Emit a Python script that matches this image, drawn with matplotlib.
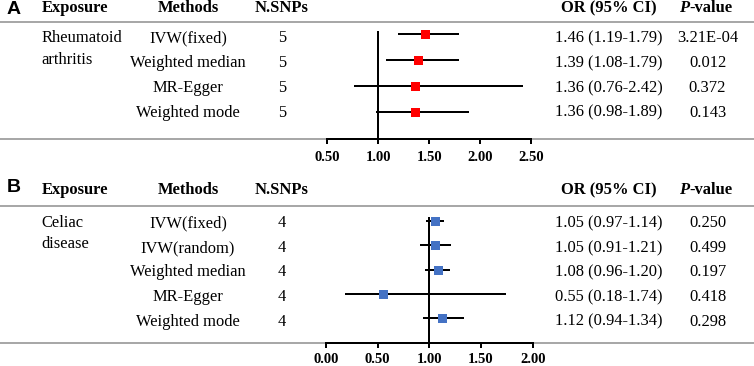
import matplotlib
matplotlib.use("Agg")
import matplotlib.pyplot as plt

# ---------------- data ----------------
a_exposure = ["Rheumatoid", "arthritis"]
a_methods = ["IVW(fixed)", "Weighted median", "MR-Egger", "Weighted mode"]
a_nsnps = [5, 5, 5, 5]
a_or = [1.46, 1.39, 1.36, 1.36]
a_lo = [1.19, 1.08, 0.76, 0.98]
a_hi = [1.79, 1.79, 2.42, 1.89]
a_p = ["3.21E-04", "0.012", "0.372", "0.143"]
a_ticks = [0.5, 1.0, 1.5, 2.0, 2.5]

b_exposure = ["Celiac", "disease"]
b_methods = ["IVW(fixed)", "IVW(random)", "Weighted median", "MR-Egger", "Weighted mode"]
b_nsnps = [4, 4, 4, 4, 4]
b_or = [1.05, 1.05, 1.08, 0.55, 1.12]
b_lo = [0.97, 0.91, 0.96, 0.18, 0.94]
b_hi = [1.14, 1.21, 1.20, 1.74, 1.34]
b_p = ["0.250", "0.499", "0.197", "0.418", "0.298"]
b_ticks = [0.0, 0.5, 1.0, 1.5, 2.0]

headers = ["Exposure", "Methods", "N.SNPs", "OR (95% CI)"]

# ---------------- layout ----------------
W, H = 754, 366
DPI = 100
SERIF = "Liberation Serif"
FS = 11.9
PX = 72.0 / DPI  # points per pixel

fig = plt.figure(figsize=(W / DPI, H / DPI), dpi=DPI)
bg = fig.add_axes([0, 0, 1, 1])
bg.set_xlim(0, W)
bg.set_ylim(H, 0)
bg.axis("off")

GRAY = "#a8a8a8"
col_exp = 41.5
col_meth = 188
col_n = 282
col_or = 609
col_p = 707.5


def panel(label, label_y, head_y, line_top, line_bot, exposure, methods, nsnps,
          ors, los, his, pvals, ticks, color,
          text_y0, text_dy, exp_dy, mark_y0, mark_dy, ref_top,
          ax_left, ax_right, label_pad):
    # panel letter
    bg.text(6.5, label_y, label, family="Liberation Sans", weight="bold",
            fontsize=14, va="center", ha="left")
    # headers
    hx = [col_exp, col_meth, col_n, col_or]
    ha = ["left", "center", "center", "center"]
    for t, x, h in zip(headers, hx, ha):
        bg.text(x, head_y, t, family=SERIF, weight="bold", fontsize=FS,
                ha=h, va="baseline")
    t1 = bg.text(679, head_y, "P", family=SERIF, weight="bold", style="italic",
                 fontsize=FS, ha="left", va="baseline")
    bg.annotate("-value", xy=(1, 0), xycoords=t1, family=SERIF, weight="bold",
                fontsize=FS, ha="left", va="bottom")
    # gray rules
    bg.plot([0, W], [line_top, line_top], color=GRAY, lw=2 * PX, solid_capstyle="butt")
    bg.plot([0, W], [line_bot, line_bot], color=GRAY, lw=2 * PX, solid_capstyle="butt")
    # exposure
    for i, e in enumerate(exposure):
        bg.text(col_exp, text_y0 + exp_dy * i, e, family=SERIF, fontsize=FS,
                ha="left", va="center")
    # table rows
    for i, (m, n, o, lo, hi, p) in enumerate(zip(methods, nsnps, ors, los, his, pvals)):
        y = text_y0 + text_dy * i
        bg.text(col_meth, y, m, family=SERIF, fontsize=FS, ha="center", va="center")
        bg.text(col_n, y, str(n), family=SERIF, fontsize=FS, ha="center", va="center")
        bg.text(col_or, y, f"{o:.2f} ({lo:.2f}-{hi:.2f})", family=SERIF, fontsize=FS,
                ha="center", va="center")
        bg.text(col_p, y, p, family=SERIF, fontsize=FS, ha="center", va="center")

    # forest axes
    ax = fig.add_axes([ax_left / W, 1 - line_bot / H, (ax_right - ax_left) / W,
                       (line_bot - line_top) / H])
    ax.patch.set_visible(False)
    ax.set_xlim(ticks[0], ticks[-1])
    ymin = (line_top - mark_y0) / mark_dy
    ymax = (line_bot - mark_y0) / mark_dy
    ax.set_ylim(ymax, ymin)
    rows = list(range(len(methods)))
    ax.vlines(1.0, (ref_top - mark_y0) / mark_dy, ymax, color="black", lw=2 * PX,
              zorder=2)
    ax.hlines(rows, los, his, color="black", lw=2 * PX, zorder=3)
    ax.plot(ors, rows, "s", color=color, markersize=9 * PX, markeredgewidth=0,
            zorder=4)
    for s in ["top", "right", "left"]:
        ax.spines[s].set_visible(False)
    ax.spines["bottom"].set_linewidth(2 * PX)
    ax.set_yticks([])
    ax.set_xticks(ticks)
    ax.set_xticklabels([f"{t:.2f}" for t in ticks], family=SERIF, weight="bold",
                       fontsize=10.5)
    ax.tick_params(axis="x", direction="out", length=5 * PX, width=2 * PX,
                   pad=label_pad)
    return ax


panel("A", 10, 12.5, 21.7, 139.3, a_exposure, a_methods, a_nsnps, a_or, a_lo, a_hi,
      a_p, a_ticks, "#ff0000",
      text_y0=38.3, text_dy=24.8, exp_dy=21.7, mark_y0=33.6, mark_dy=26.1,
      ref_top=30.7, ax_left=327.3, ax_right=531.3, label_pad=4.8)

panel("B", 188, 194, 206, 342.5, b_exposure, b_methods, b_nsnps, b_or, b_lo, b_hi,
      b_p, b_ticks, "#4472c4",
      text_y0=223.3, text_dy=24.6, exp_dy=20.3, mark_y0=221.3, mark_dy=24.1,
      ref_top=216.7, ax_left=326.0, ax_right=532.7, label_pad=4.0)

fig.savefig("out.png", dpi=DPI)
